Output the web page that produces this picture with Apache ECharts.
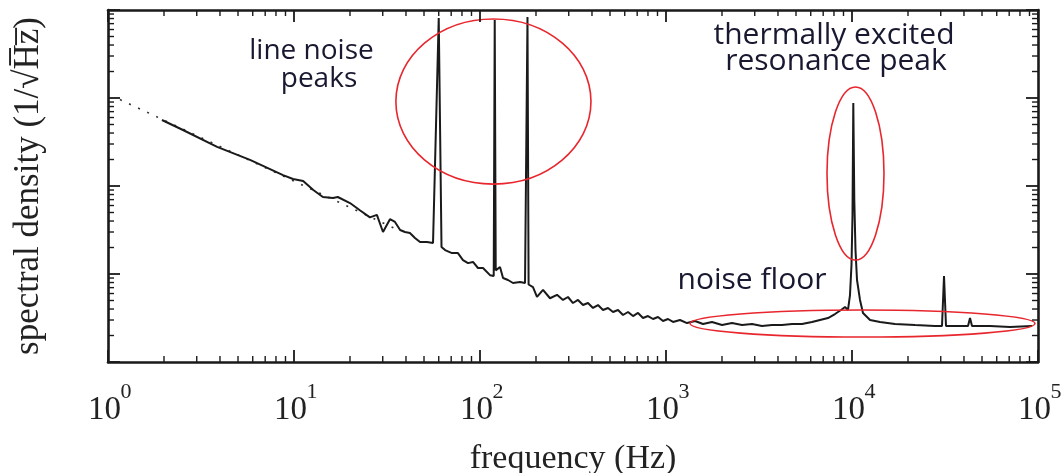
<!DOCTYPE html>
<html><head><meta charset="utf-8">
<script src="https://cdn.jsdelivr.net/npm/echarts@6/dist/echarts.min.js"></script>
<style>html,body{margin:0;padding:0;background:#fff}#c{width:1064px;height:473px}</style>
</head><body><div id="c"></div>
<script>
// measured spectrum (frequency in Hz, spectral density in arbitrary units)
const freqHz = [1.95,2.53,3.86,5.80,8.73,9.88,11.2,12.7,14.3,16.2,17.2,20.0,22.6,25.6,27.9,30.1,32.8,34.9,37.2,39.5,42.0,44.7,47.6,51.9,55.9,57.3,60,62.1,64.9,70.7,76.1,81.0,86.2,91.7,97.5,103.8,113.2,118.5,120,121.5,128.1,133.0,141.4,150.5,164.1,174.6,177.5,180,182.5,192.7,202.5,218.2,237.9,259.4,279.4,297.2,316.2,336.4,357.9,380.7,405.1,430.9,458.5,487.8,519.0,552.1,587.4,624.9,664.8,707.3,752.3,800.4,851.5,905.8,963.6,1025,1091,1189,1297,1432,1581,1767,2001,2264,2563,2900,3282,3715,4205,4759,5385,6095,6730,7430,8102,8728,9171,9517,9754,9938,10062,10162,10289,10443,10640,11041,11458,12502,14142,17027,21818,27940,30470,31240,32020,38070,42050,43100,44180,55210,70720,92840];
const density = [562,433,278,198,133,120,114,90,75,73,75,64,53,44,47,30,42,39,31.6,30,29.2,25.7,23.1,23.1,22.5,21.9,8100,20.3,18.7,17.3,17.3,14.4,13.3,13.7,11.7,11.7,9.7,9.5,7700,11,12.0,9.0,8.55,7.9,8.1,7.9,7.8,8300,7.6,7.1,5.5,6.6,5.3,5.8,5.07,5.48,4.68,5.07,4.44,4.68,4.11,4.44,3.90,4.11,3.70,3.90,3.42,3.70,3.33,3.61,3.16,3.33,3.08,3.25,2.92,3.08,2.85,3.00,2.77,2.92,2.70,2.85,2.63,2.77,2.63,2.70,2.57,2.63,2.63,2.70,2.70,2.85,3.00,3.16,3.51,3.90,4.22,3.90,5.77,12.7,46.8,878,69.3,18.7,8.55,5.07,3.61,3.00,2.85,2.70,2.63,2.57,2.57,9.49,2.57,2.57,2.57,3.16,2.57,2.57,2.50,2.57];
// dotted power-law fit
const fitFreq = [1.16, 37];
const fitDensity = [960, 31];
// axes
const xMin = 1, xMax = 100000, yMin = 1, yMax = 10000;
const xDecades = [0,1,2,3,4,5];
const yDecades = [0,1,2,3,4];
const minorMultipliers = [2,3,4,5,6,7,8,9];
// annotation ellipses: [fLow, fHigh], [dLow, dHigh]
const ellipseFreq = [[35.3, 395], [7337, 14860], [1346, 96360]];
const ellipseDensity = [[105, 7900], [14.4, 1334], [1.92, 3.9]];
const notes = [
  {text:'line noise', x:311.5, y:51, size:28},
  {text:'peaks', x:319, y:79, size:28},
  {text:'thermally excited', x:834, y:35.5, size:30},
  {text:'resonance peak', x:836, y:61, size:30},
  {text:'noise floor', x:752, y:280.5, size:30}
];

const curve = freqHz.map((f,i)=>[f, density[i]]);
const fit = fitFreq.map((f,i)=>[f, fitDensity[i]]);
const xTickVals = [], yTickVals = [];
xDecades.forEach(d=>{
  xTickVals.push(Math.pow(10,d));
  if (d < xDecades[xDecades.length-1]) minorMultipliers.forEach(m=>xTickVals.push(m*Math.pow(10,d)));
});
yDecades.forEach(d=>{
  yTickVals.push(Math.pow(10,d));
  if (d < yDecades[yDecades.length-1]) minorMultipliers.forEach(m=>yTickVals.push(m*Math.pow(10,d)));
});
function isDecade(v){ const l = Math.log10(v); return Math.abs(l - Math.round(l)) < 1e-6; }

const AX = '#1a1a1a';
const serif = '"Liberation Serif", "Times New Roman", serif';

function axisCommon(){
  return {
    axisLine:{show:true, lineStyle:{color:AX, width:2.6}},
    axisTick:{show:false},
    splitLine:{show:false}
  };
}

const chart = echarts.init(document.getElementById('c'), null, {renderer:'canvas'});
chart.setOption({
  animation:false,
  backgroundColor:'#fff',
  grid:{left:108, right:26, top:10, bottom:111, containLabel:false, outerBoundsMode:'none'},
  xAxis:[
    Object.assign({type:'log', logBase:10, min:xMin, max:xMax, splitNumber:5, position:'bottom',
      name:'frequency (Hz)', nameLocation:'middle', nameGap:80,
      nameTextStyle:{fontFamily:serif, fontSize:34, color:'#222'},
      axisLabel:{show:true, margin:32, color:'#222', fontFamily:serif, fontSize:33, lineHeight:33,
        padding:[0,7,0,0], formatter:()=>'10'}
    }, axisCommon()),
    Object.assign({type:'log', logBase:10, min:xMin, max:xMax, splitNumber:5, position:'top',
      axisLabel:{show:false}}, axisCommon()),
    {type:'log', logBase:10, min:xMin, max:xMax, splitNumber:5, position:'bottom',
      axisLine:{show:false}, axisTick:{show:false}, splitLine:{show:false},
      axisLabel:{show:true, margin:19, color:'#222', fontFamily:serif, fontSize:22, lineHeight:22,
        padding:[0,0,0,36], formatter:(v)=>String(Math.round(Math.log10(v)))}}
  ],
  yAxis:[
    Object.assign({type:'log', logBase:10, min:yMin, max:yMax, splitNumber:4, position:'left',
      name:'spectral density (1/\u221AH\u0305z\u0305)', nameLocation:'middle', nameGap:62,
      nameTextStyle:{fontFamily:serif, fontSize:35, color:'#222'},
      axisLabel:{show:false}}, axisCommon()),
    Object.assign({type:'log', logBase:10, min:yMin, max:yMax, splitNumber:4, position:'right',
      axisLabel:{show:false}}, axisCommon())
  ],
  series:[
    {type:'line', data:fit, showSymbol:false, symbol:'none', silent:true,
      lineStyle:{color:'#333', width:1.6, type:[2,8]}, z:2},
    {type:'line', data:curve, showSymbol:false, symbol:'none', silent:true,
      lineStyle:{color:'#1a1a1a', width:2}, z:3},
    {type:'custom', coordinateSystem:'cartesian2d', silent:true, clip:false, z:4,
      data:ellipseFreq.map((fr,i)=>[fr[0], ellipseDensity[i][0], fr[1], ellipseDensity[i][1]]),
      encode:{x:[0,2], y:[1,3]},
      renderItem:(params, api)=>{
        const p0 = api.coord([api.value(0), api.value(1)]);
        const p1 = api.coord([api.value(2), api.value(3)]);
        return {type:'ellipse', shape:{cx:(p0[0]+p1[0])/2, cy:(p0[1]+p1[1])/2,
          rx:Math.abs(p1[0]-p0[0])/2, ry:Math.abs(p1[1]-p0[1])/2},
          style:{fill:'none', stroke:'#e8262d', lineWidth:1.6}};
      }},
    {type:'custom', coordinateSystem:'cartesian2d', silent:true, clip:false, z:6,
      data:xTickVals.map(v=>[v, yMin]), encode:{x:0, y:1},
      renderItem:(params, api)=>{
        const cs = params.coordSys;
        const v = api.value(0);
        const x = api.coord([v, yMin])[0];
        const len = isDecade(v) ? 12 : 6;
        const w = isDecade(v) ? 1.8 : 1.4;
        const b = cs.y + cs.height, t = cs.y;
        return {type:'group', children:[
          {type:'line', shape:{x1:x, y1:b, x2:x, y2:b-len}, style:{stroke:AX, lineWidth:w}},
          {type:'line', shape:{x1:x, y1:t, x2:x, y2:t+len}, style:{stroke:AX, lineWidth:w}}
        ]};
      }},
    {type:'custom', coordinateSystem:'cartesian2d', silent:true, clip:false, z:6,
      data:yTickVals.map(v=>[xMin, v]), encode:{x:0, y:1},
      renderItem:(params, api)=>{
        const cs = params.coordSys;
        const v = api.value(1);
        const y = api.coord([xMin, v])[1];
        const len = isDecade(v) ? 12 : 6;
        const w = isDecade(v) ? 1.8 : 1.4;
        const l = cs.x, r = cs.x + cs.width;
        return {type:'group', children:[
          {type:'line', shape:{x1:l, y1:y, x2:l+len, y2:y}, style:{stroke:AX, lineWidth:w}},
          {type:'line', shape:{x1:r, y1:y, x2:r-len, y2:y}, style:{stroke:AX, lineWidth:w}}
        ]};
      }}
  ],
  graphic: notes.map(n=>({type:'text', x:n.x, y:n.y, silent:true, z:10,
    style:{text:n.text, fill:'#181830', font:n.size+'px "Open Sans"', align:'center', verticalAlign:'middle'}}))
});
</script>
</body></html>
